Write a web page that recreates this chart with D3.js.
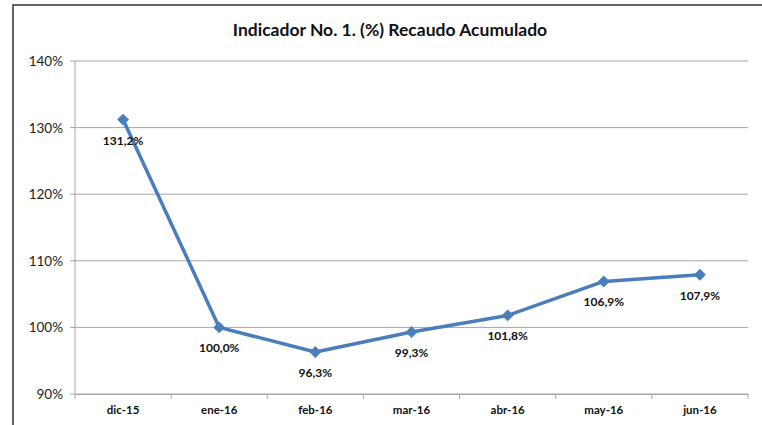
<!DOCTYPE html>
<html>
<head>
<meta charset="utf-8">
<script src="https://cdn.jsdelivr.net/npm/d3@7"></script>
<style>
  body { margin: 0; background: #fff; }
  svg { font-family: Lato, "Open Sans", sans-serif; }
</style>
</head>
<body>
<div id="chart"></div>
<script>
// chart data
var months = ["dic-15", "ene-16", "feb-16", "mar-16", "abr-16", "may-16", "jun-16"];
var recaudo = [131.2, 100.0, 96.3, 99.3, 101.8, 106.9, 107.9];
var yTicks = [90, 100, 110, 120, 130, 140];

var width = 762, height = 425;
var plotLeft = 75, plotRight = 748, plotTop = 61, plotBottom = 394;

var svg = d3.select("#chart").append("svg")
  .attr("width", width)
  .attr("height", height);

// outer frame of the chart
svg.append("rect")
  .attr("x", 13).attr("y", 5)
  .attr("width", 760).attr("height", 440)
  .attr("fill", "none")
  .attr("stroke", "#333")
  .attr("stroke-width", 1.5);

svg.append("text")
  .attr("x", 390).attr("y", 36)
  .attr("text-anchor", "middle")
  .attr("font-weight", "bold")
  .attr("font-size", "17.5px")
  .attr("fill", "#111")
  .text("Indicador No. 1. (%) Recaudo Acumulado");

var x = d3.scaleBand().domain(months).range([plotLeft, plotRight]);
var y = d3.scaleLinear().domain([90, 140]).range([plotBottom, plotTop]);

// gridlines
svg.append("g")
  .selectAll("line")
  .data(yTicks)
  .enter()
  .append("line")
  .attr("x1", plotLeft - 5).attr("x2", plotRight)
  .attr("y1", d => y(d)).attr("y2", d => y(d))
  .attr("stroke", "#a6a6a6")
  .attr("stroke-width", 1);

// y axis line
svg.append("line")
  .attr("x1", plotLeft).attr("x2", plotLeft)
  .attr("y1", plotTop).attr("y2", plotBottom)
  .attr("stroke", "#a6a6a6");

// y labels
svg.append("g")
  .selectAll("text")
  .data(yTicks)
  .enter()
  .append("text")
  .attr("x", plotLeft - 12)
  .attr("y", d => y(d) + 5)
  .attr("text-anchor", "end")
  .attr("font-size", "13.5px")
  .attr("fill", "#222")
  .text(d => d + "%");

// x axis
var xAxis = d3.axisBottom(x).tickSize(0).tickFormat(d => d);
var gx = svg.append("g")
  .attr("transform", "translate(0," + plotBottom + ")")
  .call(xAxis);
gx.select(".domain").attr("stroke", "#a6a6a6");
gx.selectAll("text")
  .attr("dy", "1.45em")
  .attr("font-family", "Lato, 'Open Sans', sans-serif")
  .attr("font-weight", "bold")
  .attr("font-size", "11.5px")
  .attr("fill", "#111");

// category boundary tick marks
svg.append("g")
  .selectAll("line")
  .data(d3.range(months.length + 1))
  .enter()
  .append("line")
  .attr("x1", i => plotLeft + i * x.step())
  .attr("x2", i => plotLeft + i * x.step())
  .attr("y1", plotBottom).attr("y2", plotBottom + 5)
  .attr("stroke", "#a6a6a6");

var cx = d => x(d) + x.bandwidth() / 2;

var line = d3.line()
  .x((d, i) => cx(months[i]))
  .y(d => y(d));

svg.append("path")
  .datum(recaudo)
  .attr("d", line)
  .attr("fill", "none")
  .attr("stroke", "#4a7ebb")
  .attr("stroke-width", 3.5)
  .attr("stroke-linejoin", "round");

svg.append("g")
  .selectAll("path")
  .data(recaudo)
  .enter()
  .append("path")
  .attr("d", d3.symbol().type(d3.symbolDiamond2).size(90))
  .attr("transform", (d, i) => "translate(" + cx(months[i]) + "," + y(d) + ")")
  .attr("fill", "#4a7ebb");

// data labels
svg.append("g")
  .selectAll("text")
  .data(recaudo)
  .enter()
  .append("text")
  .attr("x", (d, i) => cx(months[i]))
  .attr("y", d => y(d) + 25)
  .attr("text-anchor", "middle")
  .attr("font-weight", "bold")
  .attr("font-size", "12px")
  .attr("fill", "#111")
  .text(d => d.toFixed(1).replace(".", ",") + "%");
</script>
</body>
</html>
